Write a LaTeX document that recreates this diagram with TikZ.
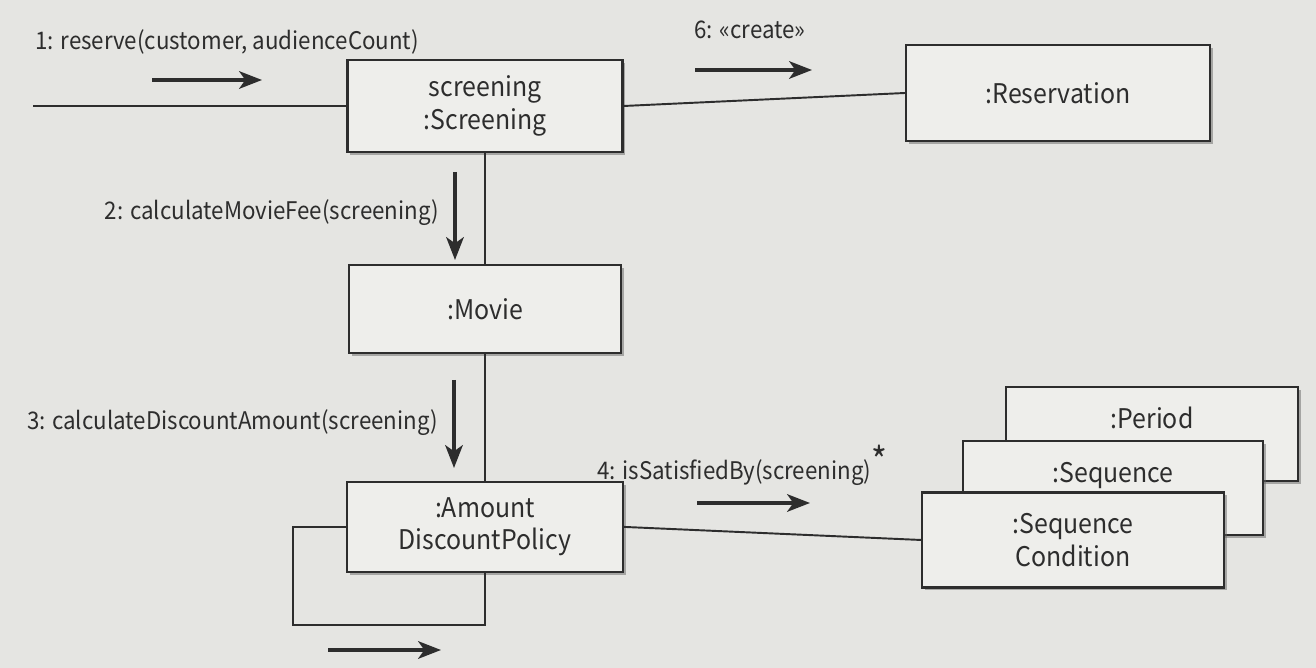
\documentclass[tikz,border=0pt]{standalone}
\usepackage{fontspec}
\setmainfont[FakeStretch=0.92]{Noto Sans CJK KR}
\usepackage{tikz}
\usetikzlibrary{positioning,arrows.meta,shadows}
\definecolor{paper}{RGB}{229,229,226}
\definecolor{boxfill}{RGB}{238,238,235}
\definecolor{ink}{RGB}{45,45,45}
\tikzset{
    on grid,
    obj/.style = {
        draw=ink,
        fill=boxfill,
        shape=rectangle,
        minimum height=1.84cm,
        minimum width=5.5cm,
        line width=1.2pt,
        align=center,
        text=ink,
        font={\fontsize{15.4}{18.5}\selectfont},
        drop shadow={shadow xshift=1.5pt, shadow yshift=-1.5pt, fill=black!60, opacity=0.5}
    },
    upper/.style = {
        text height=11pt,
        text depth=17pt
    },
    lbl/.style = {
        text=ink,
        inner sep=0pt,
        font={\fontsize{13.8}{16}\selectfont}
    },
    link/.style = {
        draw=ink,
        line width=1.1pt
    },
    msg/.style = {
        draw=ink,
        line width=1.9pt,
        ->
    },
    >={Stealth[length=13pt, width=10pt, inset=3.5pt]},
}

\begin{document}
\begin{tikzpicture}[x=0.02cm, y=-0.02cm]
    \fill[paper] (0,0) rectangle (1316,668);
    \useasboundingbox (0,0) rectangle (1316,668);

    \node[obj] (scr) at (485,106) {screening\\:Screening};
    \node[obj, minimum width=5.44cm, minimum height=1.76cm, below=4.06cm of scr] (movie) {:Movie};
    \node[obj, minimum width=5.52cm, minimum height=1.8cm, below=4.36cm of movie] (adp) {:Amount\\DiscountPolicy};
    \node[obj, minimum width=6.08cm, minimum height=1.92cm] (res) at (1058,93) {:Reservation};
    \node[obj, upper, minimum width=5.84cm, minimum height=1.88cm] (period) at (1152,434) {:Period};
    \node[obj, upper, minimum width=6cm, minimum height=1.88cm, below left=1.08cm and 0.78cm of period] (seq) {:Sequence};
    \node[obj, minimum width=6.04cm, minimum height=1.9cm, below left=1.04cm and 0.8cm of seq] (seqc) {:Sequence\\Condition};

    \coordinate (actor) at (33,106);
    \coordinate (loop) at (293,625);

    \path[link] (actor) -- (scr.west);
    \path[link] (scr.east) -- (res.west);
    \path[link] (scr) -- (movie);
    \path[link] (movie) -- (adp);
    \path[link] (adp.east) -- (seqc.west);
    \path[link] (adp.west) -| (loop) -| (adp.south);

    % messages
    \node[lbl, anchor=west] (l1) at (35,42) {1: reserve(customer, audienceCount)};
    \node[lbl, anchor=east] (l2) at (439,213) {2: calculateMovieFee(screening)};
    \node[lbl, anchor=east] (l3) at (438,423) {3: calculateDiscountAmount(screening)};
    \node[lbl, anchor=west] (l4) at (597,465) {4: isSatisfiedBy(screening)\raisebox{3pt}{\fontsize{21}{21}\selectfont *}};
    \node[lbl, anchor=west] (l6) at (694,30) {6: «create»};

    \coordinate (m1a) at (152,80);
    \coordinate (m1b) at (262,80);
    \coordinate (m2a) at (455,172);
    \coordinate (m2b) at (455,260);
    \coordinate (m3a) at (454,380);
    \coordinate (m3b) at (454,468);
    \coordinate (m4a) at (697,503);
    \coordinate (m4b) at (810,503);
    \coordinate (m5a) at (328,650);
    \coordinate (m5b) at (441,650);
    \coordinate (m6a) at (695,70);
    \coordinate (m6b) at (812,70);

    \path[msg] (m1a) -- (m1b);
    \path[msg] (m2a) -- (m2b);
    \path[msg] (m3a) -- (m3b);
    \path[msg] (m4a) -- (m4b);
    \path[msg] (m5a) -- (m5b);
    \path[msg] (m6a) -- (m6b);
\end{tikzpicture}
\end{document}
